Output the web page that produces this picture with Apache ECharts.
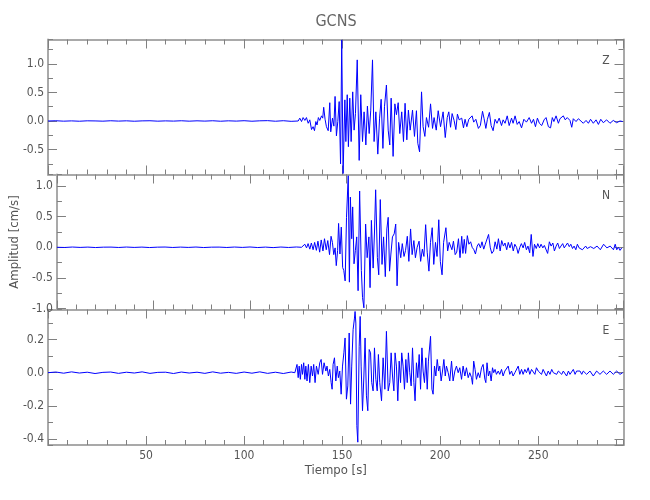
<!DOCTYPE html>
<html><head><meta charset="utf-8">
<script src="https://cdn.jsdelivr.net/npm/echarts@6/dist/echarts.min.js"></script>
<style>html,body{margin:0;padding:0;background:#fff}#c{width:650px;height:500px}</style>
</head><body><div id="c"></div>
<script>
// ---------- data ----------
const chartTitle = 'GCNS';
const components = ['Z', 'N', 'E'];
const xName = 'Tiempo [s]';
const yName = 'Amplitud [cm/s]';
const timeRange = [0, 293.5];
const zRange = [-0.937, 1.427];
const nRange = [-1.017, 1.19];
const eRange = [-0.437, 0.382];
const majorStep = [0.5, 0.5, 0.2];
const minorStep = [0.25, 0.25, 0.1];
const xMajorStep = 50;
const xMinorStep = 10;

const zTime = [0,4,8,12,16,20,24,28,32,36,40,44,48,52,56,60,64,68,72,76,80,84,88,92,96,100,104,108,112,116,120,124,127.6,
128.4,129.3,130.1,131.0,131.8,132.7,133.5,134.4,135.2,135.9,136.6,137.2,137.9,138.6,139.5,140.1,140.6,141.3,142.0,142.9,
143.7,144.2,145.1,145.8,146.4,147.1,147.8,148.5,149.2,149.8,150.5,151.4,151.9,152.6,153.2,153.9,154.6,155.4,156.1,156.8,
157.7,158.7,159.5,160.4,161.2,162.1,162.9,163.8,164.6,165.5,166.3,167.2,168.2,169.1,169.9,170.8,171.6,172.6,173.5,174.3,
175.0,176.0,176.9,177.7,178.6,179.4,180.4,181.3,182.1,183.0,183.8,184.7,185.9,186.9,187.9,188.6,189.5,190.5,191.3,192.2,
193.0,194.1,195.1,196.1,196.9,198.0,199.0,200.2,201.5,202.6,203.6,204.4,205.3,206.1,207.1,208.0,208.8,209.7,
211.0,211.9,212.7,213.6,214.6,215.4,216.3,217.1,218.2,219.5,220.5,221.6,222.4,223.3,224.1,225.1,226.0,227.0,228.0,229.0,
230.1,231.3,232.1,233.1,234.2,235.2,236.4,237.2,238.2,239.3,240.3,241.5,242.7,244.0,245.4,246.6,247.6,248.6,249.6,250.6,
251.8,253.0,254.0,255.2,
256.3,257.2,258.0,259.1,260.3,261.1,262.0,262.8,263.8,264.8,266.2,267.1,267.9,269.3,270.5,271.5,273.0,274.4,275.6,276.7,
278.1,279.5,280.7,281.9,283.2,284.9,286.6,288.3,290.0,291.7,293.1];
const zAmp = [0,0.004,-0.003,0.002,-0.004,0.003,0.001,-0.003,0.004,-0.002,0.003,-0.004,0.002,0.004,-0.003,0.002,-0.002,0.004,-0.003,0.003,-0.002,0.004,-0.004,0.003,-0.002,0.005,-0.004,0.003,0.006,-0.004,0.005,-0.006,0,
0.05,-0.01,0.06,0.01,0.06,-0.04,0.02,-0.15,-0.10,-0.17,-0.01,-0.07,0.06,0.01,0.09,0.05,0.24,0.03,-0.10,-0.17,
0.32,-0.19,0.05,-0.09,0.43,-0.26,-0.01,0.34,-0.75,1.42,-0.92,0.37,-0.36,0.46,-0.45,0.40,-0.36,0.51,-0.16,0.13,
1.07,-0.69,0.46,-0.36,0.16,-0.42,0.26,-0.22,0.19,1.07,-0.36,0.16,-0.58,0.05,0.38,-0.48,0.25,0.63,-0.16,-0.42,
0.40,-0.62,0.30,0.11,0.32,-0.22,0.16,-0.36,0.31,-0.33,0.19,-0.16,0.19,-0.27,0.18,-0.39,-0.54,0.51,-0.10,-0.27,
0.06,-0.11,0.30,-0.13,0.06,-0.16,0.18,-0.10,0.16,-0.29,0.06,0.16,-0.11,0.13,0.01,-0.15,0.12,0.02,
0.05,-0.12,0.03,-0.10,0.03,0.06,0.09,-0.02,0.03,-0.13,-0.08,0.17,0.04,-0.13,0.03,0.15,-0.08,-0.17,0.03,-0.04,
0.05,-0.08,0.02,-0.04,0.09,-0.08,0.05,-0.04,0.09,-0.06,-0.01,-0.12,0.03,-0.02,0.06,-0.04,0.03,-0.10,0.05,-0.04,
-0.08,0.02,0.06,-0.10,
-0.12,0.06,-0.01,0.09,-0.04,0.04,0.01,0.09,0.02,0.06,0.01,-0.11,0.04,-0.01,0.04,0.01,-0.04,0.01,-0.04,0.03,
-0.04,0.02,-0.06,0.03,-0.03,0.02,-0.04,0.01,-0.03,0.00,-0.01];

const nTime = [0,4,8,12,16,20,24,28,32,36,40,44,48,52,56,60,64,68,72,76,80,84,88,92,96,100,104,108,112,116,120,124,126.7,
127.6,128.4,129.3,130.1,131.0,131.8,132.7,133.5,134.4,135.2,136.1,136.9,137.8,138.6,139.5,140.3,141.2,142.0,142.7,143.4,
144.1,144.7,145.4,145.9,146.6,147.3,148.0,148.6,149.3,150.0,150.9,151.5,152.0,152.7,153.2,153.9,154.6,155.3,156.0,156.8,
157.7,158.3,159.0,159.9,160.7,161.6,162.2,162.9,163.8,164.5,165.1,166.0,166.7,167.5,168.4,169.2,170.1,170.9,171.6,172.3,
173.0,173.8,174.7,175.5,176.2,177.0,178.1,178.9,179.8,180.6,181.5,182.3,183.2,184.0,184.9,185.7,186.6,187.6,188.4,189.3,
190.1,191.0,191.8,192.7,193.5,194.4,195.2,196.1,196.9,197.8,198.6,199.5,200.3,201.5,202.4,203.2,204.6,205.4,206.3,207.1,
208.0,208.8,209.7,
210.3,211.0,211.7,212.6,213.4,214.3,215.1,216.0,216.8,217.7,218.5,219.4,220.2,221.1,221.9,222.8,223.6,224.5,225.3,226.2,
227.0,227.9,228.7,229.6,230.4,231.3,232.1,233.0,233.8,234.7,235.5,236.4,237.2,238.1,238.9,239.8,240.6,241.5,242.3,243.2,
244.0,244.9,245.7,246.6,247.4,248.3,249.1,250.0,250.8,251.7,252.5,253.4,254.2,255.1,
256.0,256.9,257.7,258.6,259.4,260.3,261.1,262.0,262.8,263.7,264.5,265.4,266.2,267.1,267.9,268.8,269.6,270.5,271.3,272.2,
273.0,273.9,274.7,276.4,278.1,279.8,281.5,283.2,284.9,286.6,288.3,289.2,290.0,290.9,291.7,292.6];
const nAmp = [0,-0.003,0.004,-0.002,0.003,-0.004,0.002,0.003,-0.003,0.004,-0.002,0.003,-0.004,0.002,0.004,-0.003,0.003,-0.002,0.004,-0.004,0.002,0.003,-0.003,0.004,-0.002,0.005,-0.004,0.003,-0.005,0.004,-0.003,0.005,0,
0.03,0.05,-0.01,0.06,-0.03,0.07,-0.04,0.08,-0.05,0.10,-0.08,0.12,-0.06,0.14,-0.04,0.11,-0.12,0.18,0.08,-0.12,
-0.01,-0.30,-0.05,0.39,-0.11,0.33,-0.33,-0.38,-0.55,0.49,1.17,-0.57,0.82,0.14,0.66,-0.27,-0.05,0.17,-0.71,0.92,
-0.38,-0.82,-0.99,0.38,-0.17,0.17,-0.66,0.44,-0.34,0.25,0.94,-0.17,-0.45,0.78,-0.28,0.17,-0.48,0.30,0.49,-0.39,
-0.11,0.17,0.22,0.38,-0.63,0.08,-0.17,0.06,-0.15,-0.05,0.18,-0.23,0.30,-0.12,0.11,-0.17,0.00,0.10,-0.23,-0.03,
-0.15,0.37,-0.08,-0.39,0.08,0.32,-0.28,0.08,-0.15,0.45,-0.23,-0.45,0.08,0.32,-0.06,0.08,-0.04,0.10,-0.12,-0.08,
0.14,-0.17,0.18,
-0.10,0.13,-0.10,0.19,0.05,0.09,0.00,-0.04,-0.11,0.02,0.06,-0.01,0.09,-0.03,0.05,0.07,0.21,-0.01,-0.10,-0.06,
0.09,-0.03,0.14,-0.06,0.11,0.02,0.07,-0.04,0.08,-0.01,0.08,-0.06,0.05,0.00,-0.10,0.00,0.06,-0.01,0.08,-0.04,
0.02,-0.09,0.21,-0.15,0.05,-0.02,0.06,-0.01,0.05,-0.01,0.03,0.06,-0.10,0.09,
0.02,0.07,-0.06,0.02,0.07,-0.02,0.02,0.06,-0.01,0.02,0.07,0.01,0.05,-0.02,0.02,-0.04,0.05,-0.01,0.01,-0.04,
-0.01,0.02,-0.02,0.01,-0.02,0.02,-0.04,0.05,-0.01,0.02,-0.04,0.05,-0.04,0.00,-0.05,-0.01];

const eTime = [0,4,8,12,16,20,24,28,32,36,40,44,48,52,56,60,64,68,72,76,80,84,88,92,96,100,104,108,112,116,120,124,125.9,
126.4,127.0,127.6,128.1,128.7,129.3,129.8,130.4,131.0,131.5,132.1,132.8,133.5,134.2,134.9,135.5,136.2,136.9,137.8,138.6,
139.3,140.0,140.8,141.7,142.3,143.0,143.7,144.4,144.9,145.4,146.1,146.8,147.5,148.1,148.8,149.5,150.2,150.9,151.5,152.2,
152.9,153.6,154.3,154.9,155.6,156.3,156.6,157.0,157.5,158.0,158.7,159.2,159.7,160.4,161.1,161.7,162.4,163.1,163.8,164.5,
165.1,165.8,166.5,167.2,167.9,168.5,169.2,170.1,170.9,171.8,172.6,173.5,174.3,175.0,175.7,176.4,177.0,177.7,178.4,179.1,
179.8,180.4,181.1,181.8,182.5,183.2,183.8,184.5,185.2,185.9,186.6,187.2,187.9,188.6,189.3,190.0,190.7,191.3,192.0,192.7,
193.4,194.0,195.1,195.8,196.4,197.1,197.8,198.5,199.2,199.8,200.5,201.2,201.9,202.6,203.2,204.1,204.9,205.8,206.6,207.5,
208.3,209.2,210.0,
210.9,211.7,212.6,213.4,214.3,215.1,216.0,216.5,217.1,217.8,218.5,219.4,220.2,221.1,221.9,222.8,223.3,223.9,224.6,225.3,
226.0,226.7,227.3,228.0,228.7,229.6,230.4,231.3,232.1,233.0,233.8,234.7,235.5,236.4,237.2,238.1,239.8,240.6,241.5,242.3,
243.2,244.0,244.9,245.7,246.6,248.3,249.1,250.0,251.7,252.5,254.2,255.1,
256.0,256.9,257.7,258.6,259.4,260.3,261.1,262.0,262.8,263.7,264.5,265.4,266.2,267.1,267.9,268.8,269.6,270.5,271.3,272.2,
273.0,274.7,276.4,278.1,279.8,281.5,283.2,284.9,286.6,288.3,290.0,291.7,293.1];
const eAmp = [0,0.004,-0.003,0.005,-0.002,0.003,-0.005,0.002,0.004,-0.004,0.003,-0.002,0.005,-0.004,0.002,0.003,-0.005,0.004,-0.002,0.003,-0.004,0.005,-0.003,0.002,-0.004,0.004,-0.003,0.005,-0.004,0.003,-0.005,0.004,0,
0.01,0.05,-0.03,0.04,-0.04,0.05,-0.01,0.06,-0.04,0.04,-0.05,0.05,-0.06,0.04,-0.02,0.05,-0.06,0.04,-0.01,0.06,
0.08,-0.01,0.06,0.01,0.04,-0.02,0.02,-0.06,-0.10,0.05,0.09,-0.05,0.04,-0.03,0.01,-0.13,0.04,0.12,0.21,-0.16,
-0.08,0.24,-0.19,0.04,0.26,0.33,0.37,0.30,-0.32,-0.42,0.16,0.34,0.04,-0.23,-0.02,0.21,-0.14,-0.23,0.14,0.12,
-0.06,-0.11,0.15,-0.04,-0.11,0.11,-0.06,-0.17,0.09,-0.10,0.25,-0.11,-0.06,0.12,-0.02,-0.11,0.12,0.04,-0.17,0.07,
-0.06,0.12,0.04,-0.10,0.08,-0.06,0.12,0.00,-0.08,0.15,-0.06,-0.17,0.06,-0.03,0.11,-0.10,0.15,0.01,-0.06,0.09,
-0.10,0.07,0.22,-0.10,-0.13,0.04,-0.02,0.08,0.01,0.04,-0.05,0.01,0.08,-0.02,0.04,0.00,-0.05,0.07,-0.05,0.01,
0.04,0.00,0.03,
-0.04,0.04,-0.02,0.03,-0.03,0.00,-0.03,-0.07,0.07,0.02,-0.04,0.00,-0.03,0.03,0.05,-0.04,-0.06,0.06,-0.02,0.01,
-0.05,0.03,0.00,0.02,-0.01,0.01,-0.01,0.02,-0.02,0.01,0.00,0.04,-0.01,0.01,-0.02,0.00,0.04,-0.01,0.02,-0.01,
0.02,0.00,0.03,-0.01,0.02,-0.01,0.03,0.01,-0.01,0.02,-0.02,0.01,
-0.01,0.02,0.00,0.01,-0.01,0.01,0.02,-0.01,0.01,0.00,-0.02,0.01,-0.01,0.00,0.02,-0.01,0.01,0.00,0.01,-0.01,
0.01,-0.01,0.01,-0.02,0.01,-0.01,0.01,-0.01,0.01,-0.01,0.01,-0.01,0.00];

// ---------- chart ----------
const times = [zTime, nTime, eTime];
const amps = [zAmp, nAmp, eAmp];
const ranges = [zRange, nRange, eRange];
const FONT = "'Liberation Sans Narrow','DejaVu Sans Condensed','Liberation Sans',sans-serif";
const AXC = '#a9a9a9', TKC = '#808080', TXC = '#555555';
const grids = [
  {left: 48, right: 26.5, top: 39.5, height: 135},
  {left: 48, right: 26.5, top: 174.5, height: 135},
  {left: 48, right: 26.5, top: 309.5, height: 135.5}
];
const xAxes = [], yAxes = [], series = [];
for (let g = 0; g < 3; g++) {
  const xa = (pos, step, len, line, labels) => ({
    gridIndex: g, type: 'value', position: pos, min: timeRange[0], max: timeRange[1],
    minInterval: step, maxInterval: step, splitNumber: 6,
    axisLine: {show: line, onZero: false, lineStyle: {color: AXC, width: 2}},
    axisTick: {show: true, inside: true, length: len, lineStyle: {color: TKC, width: 1}},
    axisLabel: {show: labels, showMinLabel: false, showMaxLabel: false, margin: 5, color: TXC,
      fontSize: 12, fontFamily: FONT, formatter: v => String(Math.round(v))},
    splitLine: {show: false}, silent: true
  });
  const bx = xa('bottom', xMajorStep, 9, true, g === 2);
  if (g === 2) {
    bx.name = xName; bx.nameLocation = 'middle'; bx.nameGap = 19;
    bx.nameTextStyle = {color: TXC, fontSize: 13, fontFamily: FONT};
  }
  xAxes.push(bx, xa('bottom', xMinorStep, 5, false, false), xa('top', xMajorStep, 9, true, false), xa('top', xMinorStep, 5, false, false));
  const r = ranges[g];
  const ya = (pos, step, len, line, labels) => ({
    gridIndex: g, type: 'value', position: pos, min: r[0], max: r[1],
    minInterval: step, maxInterval: step, splitNumber: 5,
    axisLine: {show: line, onZero: false, lineStyle: {color: AXC, width: 2}},
    axisTick: {show: true, inside: true, length: len, lineStyle: {color: TKC, width: 1}},
    axisLabel: {show: labels, showMinLabel: false, showMaxLabel: false, margin: 4, color: TXC,
      fontSize: 12, fontFamily: FONT, formatter: v => v.toFixed(1)},
    splitLine: {show: false}, silent: true
  });
  const ly = ya('left', majorStep[g], 9, true, true);
  if (g === 1) {
    ly.name = yName; ly.nameLocation = 'middle'; ly.nameGap = 30; ly.nameRotate = 90;
    ly.nameTextStyle = {color: TXC, fontSize: 13, fontFamily: FONT};
  }
  yAxes.push(ly, ya('left', minorStep[g], 5, false, false), ya('right', majorStep[g], 9, true, false), ya('right', minorStep[g], 5, false, false));
  series.push({
    type: 'line', xAxisIndex: g * 4, yAxisIndex: g * 4,
    data: times[g].map((t, i) => [t, amps[g][i]]),
    showSymbol: false, symbol: 'none', clip: true, silent: true,
    lineStyle: {color: '#0000ff', width: 1}
  });
}
const compY = [61, 196, 331];
const graphics = [{type: 'text', x: 336, y: 22, style: {text: chartTitle, align: 'center', verticalAlign: 'middle', fill: '#666', fontSize: 16, fontFamily: FONT}}];
components.forEach((c, i) => graphics.push({type: 'text', x: 606, y: compY[i], style: {text: c, align: 'center', verticalAlign: 'middle', fill: '#555', fontSize: 12, fontFamily: FONT}}));

const chart = echarts.init(document.getElementById('c'), null, {renderer: 'canvas'});
chart.setOption({
  animation: false, backgroundColor: '#ffffff',
  grid: grids, xAxis: xAxes, yAxis: yAxes, series: series, graphic: graphics
});
</script></body></html>
